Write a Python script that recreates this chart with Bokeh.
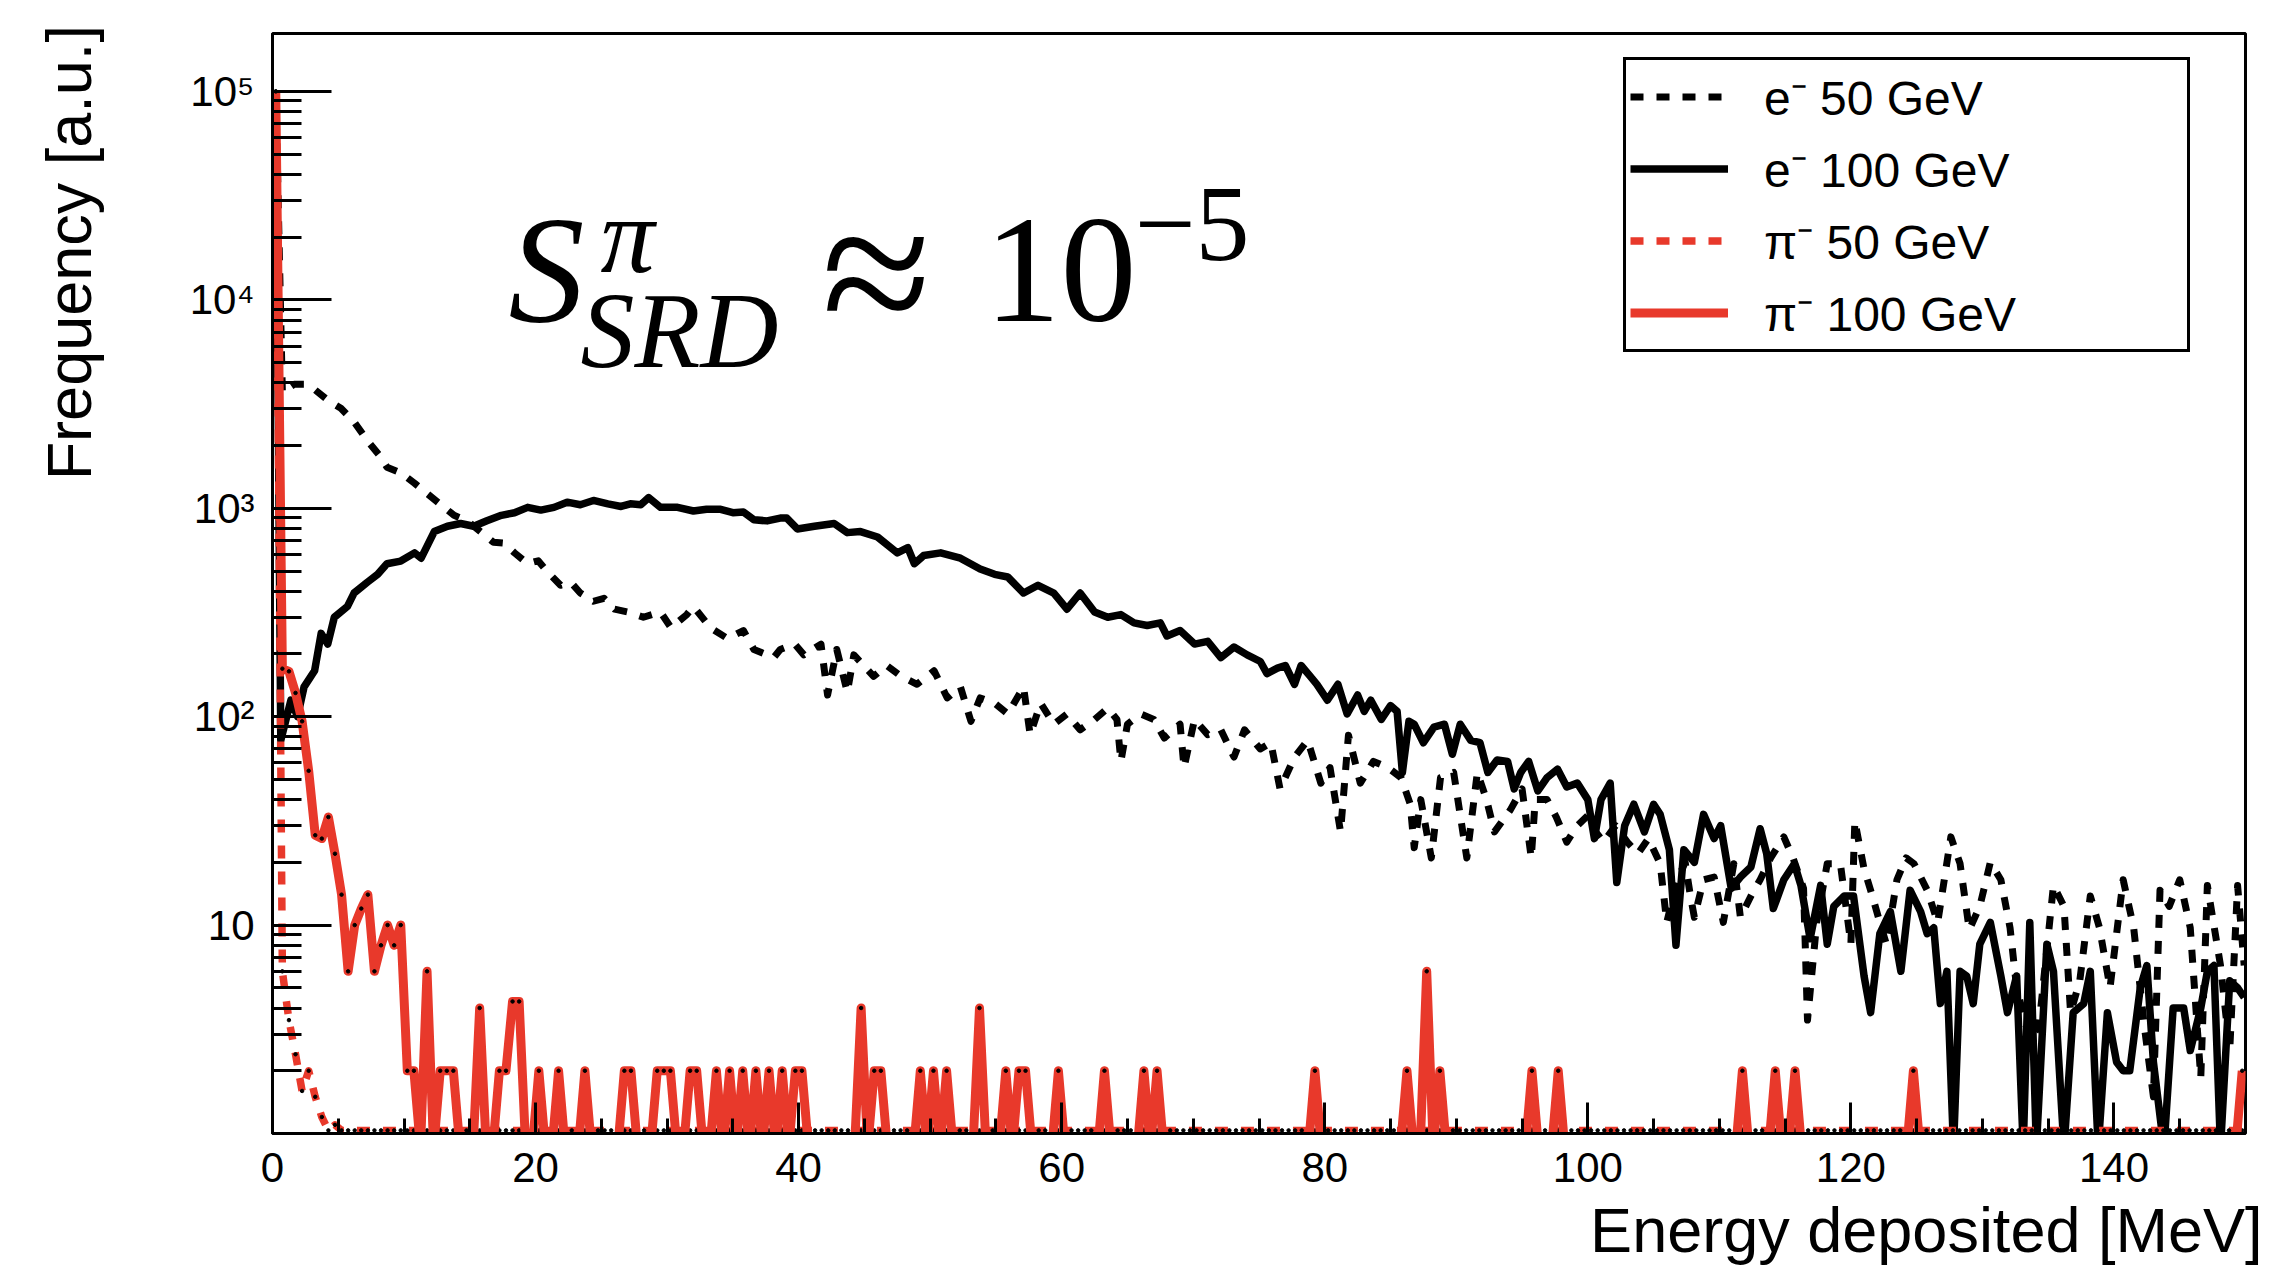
import numpy as np
from bokeh.plotting import figure
from bokeh.models import FixedTicker, Legend, LegendItem, Label, Title, Range1d
from bokeh.embed import file_html
from bokeh.resources import INLINE

# ---------------- data ----------------
# e- 50 GeV (black dashed)
e50_energy = [
    0.25, 0.75, 1.65, 2.4, 3.2, 4.2, 5.2, 6.2, 7.2, 8.2,
    8.7, 9.75, 10.8, 11.8, 12.8, 13.8, 14.8, 15.8, 16.8, 17.6,
    18.4, 19.4, 20.2, 20.9, 21.9, 22.7, 23.4, 24.4, 25.2, 26.0,
    27.0, 28.2, 29.5, 30.3, 31.5, 32.0, 33.3, 34.6, 35.8, 36.6,
    37.6, 38.1, 38.6, 39.7, 40.4, 41.7, 42.2, 42.9, 43.7, 44.2,
    45.7, 46.7, 47.8, 49.0, 50.3, 51.3, 52.3, 53.1, 53.8, 54.9,
    55.9, 57.1, 57.6, 58.4, 59.4, 60.4, 61.4, 62.5, 63.5, 64.2,
    64.5, 65.0, 66.0, 67.0, 67.8, 69.0, 69.3, 70.1, 71.1, 72.1,
    73.1, 73.9, 75.1, 75.9, 76.6, 77.7, 78.7, 79.7, 80.4, 81.2,
    81.8, 82.7, 83.7, 84.8, 85.8, 86.5, 86.8, 87.3, 88.1, 88.8,
    89.8, 90.8, 91.6, 92.3, 92.9, 94.1, 95.0, 95.7, 96.0, 96.9,
    97.6, 98.4, 99.2, 100.0, 100.6, 101.2, 102.1, 103.0, 103.8, 104.6,
    105.5, 106.0, 106.8, 107.4, 107.8, 108.1, 108.8, 109.6, 110.3, 111.1,
    111.6, 112.4, 113.1, 113.9, 114.9, 115.6, 116.4, 116.7, 117.4, 118.2,
    119.2, 120.0, 120.3, 121.0, 121.6, 122.2, 122.7, 123.5, 124.2, 124.8,
    125.8, 126.6, 127.6, 128.3, 129.0, 129.8, 130.6, 131.4, 132.1, 132.6,
    133.6, 134.3, 135.4, 136.2, 136.7, 137.4, 138.2, 138.9, 139.7, 140.7,
    141.5, 142.3, 143.0, 143.5, 144.2, 145.0, 145.8, 146.6, 147.1, 148.1,
    148.8, 149.4, 149.9,
]
e50_counts = [
    100000, 3600, 3940, 3940, 3715, 3300, 3020, 2600, 2115, 1770,
    1574, 1480, 1318, 1170, 1040, 925, 871, 773, 687, 680,
    611, 542, 560, 496, 427, 440, 392, 358, 370, 328,
    318, 300, 318, 267, 309, 338, 267, 237, 259, 210,
    198, 192, 210, 223, 198, 223, 127, 210, 131, 198,
    156, 176, 156, 143, 166, 123, 139, 95, 123, 116,
    103, 139, 82, 116, 92, 103, 86.5, 97, 110, 97,
    61, 92, 103, 97, 79, 92, 57, 97, 82, 86.5,
    64, 86.5, 70, 75, 45, 64, 77, 48, 57, 28,
    81.5, 48, 61, 57, 51, 38, 23.5, 40, 21, 51,
    54, 21, 54, 40, 28, 35.6, 45, 21, 40, 40,
    33, 25, 30, 33.6, 28, 25, 30, 25, 22, 26,
    19.7, 10.3, 16.5, 20, 13.8, 10.9, 16.5, 17, 10.3, 19.7,
    10.9, 13.8, 16.5, 21, 26.5, 21, 15, 3.5, 10.3, 19.7,
    19.7, 8.1, 31.6, 18.6, 14, 10.3, 8.1, 16.5, 21, 19.7,
    14.7, 10.3, 26.5, 19.7, 9.5, 12.3, 20, 16.5, 9.7, 5.0,
    2.8, 3.3, 15.5, 12.3, 3.8, 5.4, 13.8, 9.7, 5.0, 16.5,
    9.7, 3.3, 1.5, 14.7, 12.3, 16.5, 9.7, 1.85, 15.5, 6.4,
    2.5, 15.5, 6.4,
]

# e- 100 GeV (black solid)
e100_energy = [
    0.25, 0.63, 1.4, 1.9, 2.4, 3.2, 3.7, 4.2, 4.7, 5.7,
    6.2, 7.2, 8.0, 8.7, 9.75, 10.8, 11.3, 12.3, 13.3, 14.3,
    15.3, 16.3, 17.4, 18.4, 19.4, 20.4, 21.4, 22.4, 23.4, 24.4,
    25.5, 26.5, 27.2, 28.0, 28.6, 29.5, 30.8, 32.0, 33.0, 34.0,
    35.0, 35.8, 36.6, 37.6, 38.6, 39.1, 39.9, 41.2, 42.7, 43.7,
    44.7, 46.0, 47.5, 48.3, 48.8, 49.5, 50.8, 52.3, 53.8, 54.9,
    55.9, 57.1, 58.2, 59.4, 60.4, 61.4, 62.5, 63.5, 64.5, 65.5,
    66.5, 67.5, 68.0, 69.0, 70.1, 71.1, 72.1, 73.1, 74.1, 75.1,
    75.6, 76.4, 77.0, 77.7, 78.2, 78.9, 79.4, 80.2, 81.0, 81.7,
    82.5, 83.0, 83.5, 84.3, 85.0, 85.5, 85.9, 86.4, 86.8, 87.5,
    88.3, 89.1, 89.7, 90.3, 91.1, 91.8, 92.4, 93.1, 93.9, 94.4,
    94.9, 95.5, 96.2, 96.9, 97.7, 98.4, 99.2, 100.0, 100.5, 101.0,
    101.7, 102.2, 102.8, 103.5, 104.3, 105.0, 105.5, 106.2, 106.7, 107.3,
    108.1, 108.8, 109.6, 110.1, 110.9, 111.6, 112.4, 113.1, 113.6, 114.1,
    114.9, 115.7, 116.2, 116.9, 117.7, 118.2, 118.7, 119.5, 120.2, 121.0,
    121.5, 122.2, 123.0, 123.8, 124.5, 125.3, 125.8, 126.3, 126.8, 127.3,
    127.8, 128.3, 128.8, 129.3, 129.8, 130.6, 131.4, 131.9, 132.6, 133.1,
    133.6, 134.1, 134.9, 135.4, 136.2, 136.9, 137.7, 138.2, 138.8, 139.5,
    140.2, 140.7, 141.2, 142.0, 142.5, 143.0, 143.8, 144.5, 145.3, 145.8,
    146.6, 147.1, 147.6, 148.1, 148.8, 149.4, 149.9,
]
e100_counts = [
    100000, 77, 120, 100, 139, 166, 251, 223, 300, 338,
    392, 441, 482, 542, 558, 611, 576, 773, 820, 845,
    820, 871, 925, 952, 1010, 980, 1010, 1070, 1040, 1090,
    1050, 1020, 1050, 1040, 1125, 1010, 1010, 970, 990, 990,
    952, 960, 880, 870, 897, 897, 796, 820, 845, 764,
    773, 728, 611, 647, 542, 593, 611, 576, 511, 482,
    468, 392, 427, 392, 328, 392, 318, 300, 309, 282,
    274, 282, 244, 259, 223, 230, 192, 216, 198, 184,
    161, 171, 176, 143, 176, 156, 143, 120, 143, 103,
    127, 106, 120, 97, 113, 106, 54, 95, 92, 75,
    89, 92, 66, 92, 77, 75, 54, 62, 61, 45,
    54, 61, 44, 51, 56, 46, 48, 40, 26, 40,
    48, 16, 30, 38, 28, 38, 34, 23, 8, 23,
    20, 34, 26, 30, 15, 17, 19, 29, 22, 12,
    16.5, 19.7, 15.5, 8.6, 15.5, 8.1, 12.3, 13.8, 13.8, 5.7,
    3.8, 9.1, 11.6, 6.0, 14.7, 11.6, 9.1, 9.7, 4.2, 6.0,
    0, 6.0, 5.7, 4.2, 8.1, 10.3, 5.7, 3.8, 5.7, 0,
    10.3, 0, 8.1, 6.0, 0, 3.8, 4.2, 6.0, 0, 3.8,
    2.2, 2.0, 2.0, 5.0, 6.4, 2.2, 0, 4.0, 4.0, 2.5,
    4.0, 6.0, 6.4, 0, 5.4, 5.0, 4.5,
]

# pi- histograms: 0.5 MeV bins, only the non-empty bins are listed
pi_bin_width = 0.5
pi50_energy = [0.25, 0.75, 1.25, 1.75, 2.25, 2.75, 3.25, 3.75, 4.25, 4.75]
pi50_counts = [100000, 6, 3.5, 2.4, 1.6, 2.0, 1.5, 1.2, 1.0, 1.1]

pi100_energy = [
    0.25, 0.75, 1.25, 1.75, 2.25, 2.75, 3.25, 3.75, 4.25, 4.75,
    5.25, 5.75, 6.25, 6.75, 7.25, 7.75, 8.25, 8.75, 9.25, 9.75,
    10.25, 10.75, 11.75, 12.75, 13.25, 13.75, 15.75,
    17.25, 17.75, 18.25, 18.75, 20.25, 21.75, 23.75,
    26.75, 27.25, 29.25, 29.75, 30.25, 31.75, 32.25,
    33.75, 34.75, 35.75, 36.75, 37.75, 38.75, 39.75, 40.25,
    44.75, 45.75, 46.25, 49.25, 50.25, 51.25, 53.75,
    55.75, 56.75, 57.25, 59.75, 63.25, 66.25, 67.25,
    79.25, 86.25, 87.75, 88.75, 95.75, 97.75,
    111.75, 114.25, 115.75, 124.75, 149.75,
]
pi100_counts = [
    100000, 170, 165, 130, 95, 55, 27, 26, 33, 22,
    14, 6, 10, 12, 14, 6, 8, 10, 8, 10,
    2, 2, 6, 2, 2, 2, 4,
    2, 2, 4.3, 4.3, 2, 2, 2,
    2, 2, 2, 2, 2, 2, 2,
    2, 2, 2, 2, 2, 2, 2, 2,
    4, 2, 2, 2, 2, 2, 4,
    2, 2, 2, 2, 2, 2, 2,
    2, 2, 6, 2, 2, 2,
    2, 2, 2, 2, 2,
]

x_major_ticks = [0, 20, 40, 60, 80, 100, 120, 140]
x_minor_ticks = [5 * i for i in range(1, 30)]
y_major_ticks = [10, 100, 1000, 10000, 100000]
y_tick_labels = {10: "10", 100: "10\u00b2", 1000: "10\u00b3", 10000: "10\u2074", 100000: "10\u2075"}
y_minor_ticks = [m * 10 ** k for k in range(0, 5) for m in range(2, 10)]

legend_labels = ["e\u207b 50 GeV", "e\u207b 100 GeV", "\u03c0\u207b 50 GeV", "\u03c0\u207b 100 GeV"]
x_title = "Energy deposited [MeV]"
y_title = "Frequency [a.u.]"

assert len(e50_energy) == len(e50_counts)
assert len(e100_energy) == len(e100_counts)
assert len(pi100_energy) == len(pi100_counts)

# ---------------- helpers ----------------
RED = "#e8392b"
BELOW_AXIS = 0.85  # empty bins are drawn just under the log axis (clipped, as ROOT does)
ON_AXIS = 1.035    # empty pi- 50 GeV bins run along the axis line

centers = np.arange(pi_bin_width / 2, 150.0, pi_bin_width)


def fill_hist(energy, counts):
    h = np.zeros(len(centers))
    for e, c in zip(energy, counts):
        h[int(round((e - pi_bin_width / 2) / pi_bin_width))] = c
    return h


def floor(values, fl):
    v = np.asarray(values, dtype=float)
    return np.where(v > 1.0, v, fl) if fl > 1 else np.where(v > 0, v, fl)


pi50_h = floor(fill_hist(pi50_energy, pi50_counts), ON_AXIS)
pi100_h = floor(fill_hist(pi100_energy, pi100_counts), BELOW_AXIS)

# ---------------- figure ----------------
FRAME_W, FRAME_H = 1973, 1100
p = figure(
    frame_width=FRAME_W, frame_height=FRAME_H,
    x_range=Range1d(0, 150), y_range=Range1d(1, 1.897e5),
    y_axis_type="log",
    output_backend="svg", toolbar_location=None,
    min_border_left=272, min_border_right=27, min_border_top=33, min_border_bottom=146,
    background_fill_color="white", border_fill_color="white",
)
p.xgrid.visible = False
p.ygrid.visible = False
p.outline_line_color = "black"
p.outline_line_width = 3

r_e50 = p.line(e50_energy, floor(e50_counts, BELOW_AXIS), line_color="black", line_width=7,
               line_dash="13 13", line_join="round")
r_e100 = p.line(e100_energy, floor(e100_counts, BELOW_AXIS), line_color="black", line_width=7.5,
                line_join="round")
r_pi50 = p.line(centers, pi50_h, line_color=RED, line_width=7.5, line_dash="13 13", line_join="round")
p.scatter(centers, pi50_h, size=3.5, color="black")
r_pi100 = p.line(centers, pi100_h, line_color=RED, line_width=9, line_join="round")
p.scatter(centers, pi100_h, size=3.5, color="black")

# axes
xa = p.xaxis[0]
xa.ticker = FixedTicker(ticks=x_major_ticks, minor_ticks=x_minor_ticks)
ya = p.yaxis[0]
ya.ticker = FixedTicker(ticks=y_major_ticks, minor_ticks=y_minor_ticks)
ya.major_label_overrides = y_tick_labels
for ax in (xa, ya):
    ax.axis_line_width = 3
    ax.axis_line_color = "black"
    ax.major_tick_line_width = 3
    ax.minor_tick_line_width = 3
    ax.major_tick_out = 0
    ax.minor_tick_out = 0
    ax.major_label_text_font = "Liberation Sans"
    ax.major_label_text_font_size = "42px"
    ax.major_label_text_color = "black"
    ax.axis_label_text_font = "Liberation Sans"
    ax.axis_label_text_font_size = "63px"
    ax.axis_label_text_font_style = "normal"
    ax.axis_label_text_color = "black"
xa.major_tick_in = 31
xa.minor_tick_in = 15
xa.major_label_standoff = 19
ya.major_tick_in = 59
ya.minor_tick_in = 29
ya.major_label_standoff = 18

# x title: right-aligned under the axis (ROOT style)
p.add_layout(Title(text=x_title, align="right", offset=-17, standoff=16,
                   text_font="Liberation Sans", text_font_size="63px",
                   text_font_style="normal", text_color="black"), "below")
# y title: axis label pushed towards the top end with leading em/en spaces
ya.axis_label_standoff = 83
ya.axis_label = "\u2003" * 10 + "\u2002" + y_title

# legend
legend = Legend(
    items=[
        LegendItem(label=legend_labels[0], renderers=[r_e50]),
        LegendItem(label=legend_labels[1], renderers=[r_e100]),
        LegendItem(label=legend_labels[2], renderers=[r_pi50]),
        LegendItem(label=legend_labels[3], renderers=[r_pi100]),
    ],
    location=(1351, 781),
    border_line_color="black", border_line_width=3, border_line_alpha=1.0,
    background_fill_color="white", background_fill_alpha=1.0,
    padding=4, spacing=7, margin=0,
    glyph_width=98, glyph_height=55, label_height=55, label_width=419, label_standoff=36,
    label_text_font="Liberation Sans", label_text_font_size="48px", label_text_color="black",
)
p.add_layout(legend)

# formula  S^pi_SRD ~ 10^-5  (screen offsets from the frame's lower-left corner)
serif = "Liberation Serif"
formula = [
    ("S", 236, 863, "152px", "italic"),
    ("\u03c0", 328, 898, "108px", "italic"),
    ("SRD", 308, 803, "108px", "italic"),
    ("\u2248", 549, 861, "200px", "normal"),
    ("10", 712, 863, "152px", "normal"),
    ("\u22125", 862, 909, "108px", "normal"),
]
for txt, sx, sy, size, style in formula:
    p.add_layout(Label(x=sx, y=sy, x_units="screen", y_units="screen", text=txt,
                       text_font=serif, text_font_size=size, text_font_style=style,
                       text_color="black", text_baseline="alphabetic", text_align="left"))

open("out.html", "w").write(file_html(p, INLINE))
